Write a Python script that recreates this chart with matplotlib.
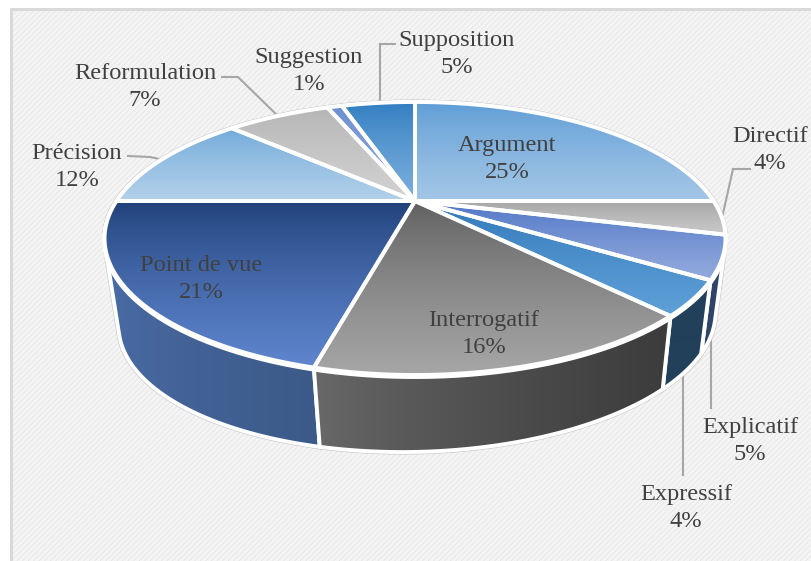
import numpy as np
import matplotlib
matplotlib.use("Agg")
import matplotlib.pyplot as plt
from matplotlib.colors import LinearSegmentedColormap
from matplotlib.patches import Polygon, Rectangle

categories = ["Argument", "Directif", "Explicatif", "Expressif", "Interrogatif",
              "Point de vue", "Précision", "Reformulation", "Suggestion", "Supposition"]
values = [25, 4, 5, 4, 16, 21, 12, 7, 1, 5]

top_colors = [("#5b9bd5", "#a3c6e6"), ("#a4a4a4", "#c9c9c9"), ("#4a72c4", "#93aadd"),
              ("#2e75b6", "#5fa0d8"), ("#5e5e5e", "#a6a6a6"), ("#1f3f77", "#5f86cf"),
              ("#6ea8d9", "#b2d0e9"), ("#b4b4b4", "#d2d2d2"), ("#6a8dd0", "#8faadc"),
              ("#2e7cc0", "#7cafdd")]
wall_colors = {2: ("#2f4468", "#2f4468"), 3: ("#22405a", "#22405a"),
               4: ("#6a6a6a", "#3c3c3c"), 5: ("#4a6ba6", "#3b5a88")}
label_xy = [(507, 159), (770, 150), (750, 441), (686, 508), (484, 334),
            (201, 279), (77, 167), (145, 87), (309, 71), (457, 54)]
leaders = [([222, 238, 280], [77, 77, 118]), ([128, 150, 164], [156, 157, 160]),
           ([395, 380, 380], [44, 44, 103]), ([750, 733, 722], [169, 169, 218]),
           ([710.5, 710.5], [327, 408]), ([683, 683], [372, 475])]

TOP = dict(a=298.5, b=126.2, cx=415.0, cy=201.0, tilt=0.0)
BOT = dict(a=287.0, b=122.5, cx=417.0, cy=283.0, tilt=0.022)
K = 0.2747


def rim(theta, a, b, cx, cy, tilt):
    """Project a point of the unit circle (clockwise from 12 o'clock)."""
    sx, sy = np.sin(theta), np.cos(theta)
    d = 1 + K * sy
    x = a * sx / d
    y = -b * sy / d
    return np.column_stack([cx + x, cy + y - tilt * x])


def hull(pts):
    pts = sorted(map(tuple, pts))
    def half(seq):
        out = []
        for p in seq:
            while len(out) > 1 and ((out[-1][0] - out[-2][0]) * (p[1] - out[-2][1])
                                    - (out[-1][1] - out[-2][1]) * (p[0] - out[-2][0])) <= 0:
                out.pop()
            out.append(p)
        return out[:-1]
    return np.array(half(pts) + half(pts[::-1]))


plt.rcParams["font.family"] = ["Liberation Serif", "DejaVu Serif"]
plt.rcParams["hatch.linewidth"] = 0.3
plt.rcParams["hatch.color"] = "#ebebeb"
fig = plt.figure(figsize=(8.11, 5.61), dpi=100, facecolor="white")
ax = fig.add_axes([0, 0, 1, 1])
ax.axis("off")


def gradient(poly, c0, c1, horizontal, z):
    x0, y0 = poly.min(axis=0)
    x1, y1 = poly.max(axis=0)
    ramp = (np.linspace(0, 1, 128) ** 0.75).reshape(-1, 1)
    if horizontal:
        ramp = ramp.T
    cmap = LinearSegmentedColormap.from_list("g", [c0, c1])
    im = ax.imshow(ramp, cmap=cmap, extent=[x0, x1, y1, y0], aspect="auto",
                   origin="upper", zorder=z, interpolation="bilinear", vmin=0, vmax=1)
    patch = Polygon(poly, closed=True, transform=ax.transData, facecolor="none",
                    edgecolor="white", linewidth=2.8, joinstyle="round", zorder=z + 0.1)
    ax.add_patch(patch)
    im.set_clip_path(patch)


ax.add_patch(Rectangle((11, 9), 820, 570, facecolor="#f4f4f4", edgecolor="#d9d9d9",
                       linewidth=2, hatch="//////", zorder=0))
ax.add_patch(Rectangle((11, 9), 820, 570, facecolor="none", edgecolor="#d9d9d9",
                       linewidth=2, zorder=0.2))

edges = 2 * np.pi * np.cumsum([0] + values) / sum(values)

# side walls (only the front half of the pie shows)
for i, (c0, c1) in wall_colors.items():
    t = np.linspace(max(edges[i], np.pi / 2), min(edges[i + 1], 1.5 * np.pi), 60)
    poly = hull(np.vstack([rim(t, **TOP), rim(t, **BOT)]))
    ax.add_patch(Polygon(poly, closed=True, facecolor="none", edgecolor="#c4c4c4",
                         linewidth=3.6, zorder=1))
    gradient(poly, c0, c1, True, 2 + 0.2 * (i if i < 4 else 9 - i))

# top face
all_t = np.linspace(0, 2 * np.pi, 361)
ax.add_patch(Polygon(rim(all_t, **TOP), closed=True, facecolor="none", edgecolor="#c4c4c4",
                     linewidth=3.6, zorder=3))
ax.add_patch(Polygon(rim(all_t, **TOP), closed=True, facecolor="white", edgecolor="white",
                     linewidth=2.8, zorder=3.1))
front = rim(np.linspace(0.45 * np.pi, 1.5 * np.pi, 200), **TOP)
ax.plot(front[:, 0], front[:, 1] + 1.5, color="white", lw=3.6, zorder=3.2)
for i, (c0, c1) in enumerate(top_colors):
    t = np.linspace(edges[i], edges[i + 1], 80)
    poly = np.vstack([[TOP["cx"], TOP["cy"]], rim(t, **TOP)])
    gradient(poly, c0, c1, False, 4)

for xs, ys in leaders:
    ax.plot(xs, ys, color="#a6a6a6", lw=1.5, zorder=1.5, solid_joinstyle="miter")

for name, v, (x, y) in zip(categories, values, label_xy):
    pct = round(100 * v / sum(values))
    ax.text(x, y, f"{name}\n{pct}%", ha="center", va="center", fontsize=17.6,
            color="#404040", linespacing=1.33, zorder=7)

ax.set_xlim(0, 811)
ax.set_ylim(561, 0)
fig.savefig("out.png", dpi=100)
